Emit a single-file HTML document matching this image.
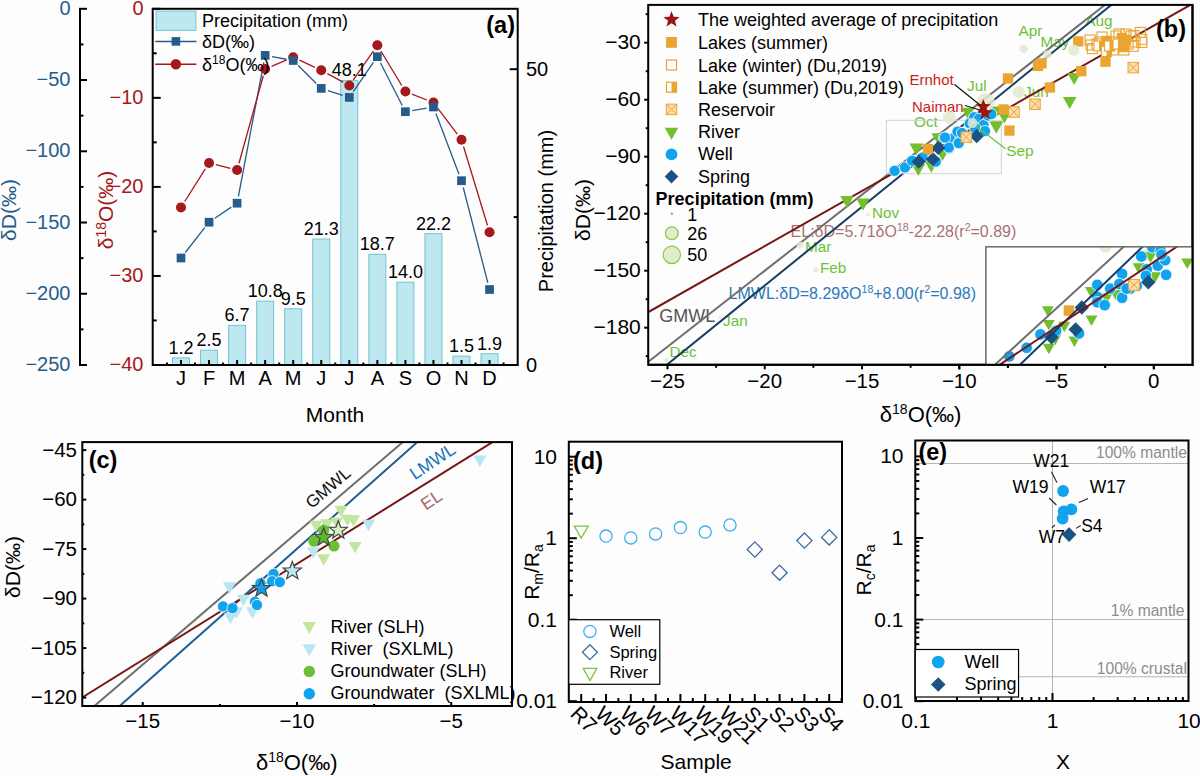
<!DOCTYPE html>
<html><head><meta charset="utf-8"><style>
html,body{margin:0;padding:0;background:#fdfdfd;}
svg{display:block;}
text{font-family:"Liberation Sans", sans-serif;}
</style></head><body>
<svg width="1200" height="776" viewBox="0 0 1200 776" font-family='"Liberation Sans", sans-serif'>
<rect width="1200" height="776" fill="#fdfdfd"/>
<rect x="172.5" y="357.9" width="17" height="7.1" fill="#bde8f0" stroke="#72c4cf" stroke-width="1" />
<rect x="200.55" y="350.21" width="17" height="14.79" fill="#bde8f0" stroke="#72c4cf" stroke-width="1" />
<rect x="228.6" y="325.36" width="17" height="39.64" fill="#bde8f0" stroke="#72c4cf" stroke-width="1" />
<rect x="256.65" y="301.11" width="17" height="63.89" fill="#bde8f0" stroke="#72c4cf" stroke-width="1" />
<rect x="284.7" y="308.8" width="17" height="56.2" fill="#bde8f0" stroke="#72c4cf" stroke-width="1" />
<rect x="312.75" y="238.99" width="17" height="126.01" fill="#bde8f0" stroke="#72c4cf" stroke-width="1" />
<rect x="340.8" y="80.44" width="17" height="284.56" fill="#bde8f0" stroke="#72c4cf" stroke-width="1" />
<rect x="368.85" y="254.37" width="17" height="110.63" fill="#bde8f0" stroke="#72c4cf" stroke-width="1" />
<rect x="396.9" y="282.18" width="17" height="82.82" fill="#bde8f0" stroke="#72c4cf" stroke-width="1" />
<rect x="424.95" y="233.66" width="17" height="131.34" fill="#bde8f0" stroke="#72c4cf" stroke-width="1" />
<rect x="453" y="356.13" width="17" height="8.87" fill="#bde8f0" stroke="#72c4cf" stroke-width="1" />
<rect x="481.05" y="353.76" width="17" height="11.24" fill="#bde8f0" stroke="#72c4cf" stroke-width="1" />
<line x1="185.32" y1="252.49" x2="204.73" y2="227.71" stroke="#265c8c" stroke-width="1.3" />
<line x1="214.85" y1="218.27" x2="231.3" y2="207.13" stroke="#265c8c" stroke-width="1.3" />
<line x1="238.41" y1="196.32" x2="263.84" y2="62.28" stroke="#265c8c" stroke-width="1.3" />
<line x1="272.04" y1="56.65" x2="286.31" y2="59.25" stroke="#265c8c" stroke-width="1.3" />
<line x1="298.16" y1="65.44" x2="316.29" y2="83.46" stroke="#265c8c" stroke-width="1.3" />
<line x1="327.92" y1="90.54" x2="342.63" y2="95.26" stroke="#265c8c" stroke-width="1.3" />
<line x1="353.27" y1="91.64" x2="373.38" y2="62.46" stroke="#265c8c" stroke-width="1.3" />
<line x1="380.53" y1="62.94" x2="402.22" y2="105.46" stroke="#265c8c" stroke-width="1.3" />
<line x1="412.3" y1="110.54" x2="426.55" y2="108.16" stroke="#265c8c" stroke-width="1.3" />
<line x1="435.94" y1="113.54" x2="459.01" y2="174.16" stroke="#265c8c" stroke-width="1.3" />
<line x1="463.25" y1="187.48" x2="487.8" y2="282.72" stroke="#265c8c" stroke-width="1.3" />
<line x1="184.74" y1="201.48" x2="205.31" y2="168.92" stroke="#a5181c" stroke-width="1.3" />
<line x1="215.84" y1="164.69" x2="230.31" y2="168.31" stroke="#a5181c" stroke-width="1.3" />
<line x1="238.97" y1="163.26" x2="263.28" y2="75.74" stroke="#a5181c" stroke-width="1.3" />
<line x1="271.6" y1="66.29" x2="286.75" y2="59.91" stroke="#a5181c" stroke-width="1.3" />
<line x1="299.54" y1="60.16" x2="314.91" y2="67.34" stroke="#a5181c" stroke-width="1.3" />
<line x1="327.4" y1="73.64" x2="343.15" y2="82.16" stroke="#a5181c" stroke-width="1.3" />
<line x1="353.31" y1="79.76" x2="373.34" y2="51.04" stroke="#a5181c" stroke-width="1.3" />
<line x1="380.98" y1="51.28" x2="401.77" y2="85.52" stroke="#a5181c" stroke-width="1.3" />
<line x1="411.91" y1="94.08" x2="426.94" y2="100.02" stroke="#a5181c" stroke-width="1.3" />
<line x1="437.66" y1="108.19" x2="457.29" y2="134.21" stroke="#a5181c" stroke-width="1.3" />
<line x1="463.53" y1="146.5" x2="487.52" y2="225.5" stroke="#a5181c" stroke-width="1.3" />
<circle cx="181" cy="207.4" r="5" fill="#a5181c" stroke="none" stroke-width="1" />
<circle cx="209.05" cy="163" r="5" fill="#a5181c" stroke="none" stroke-width="1" />
<circle cx="237.1" cy="170" r="5" fill="#a5181c" stroke="none" stroke-width="1" />
<circle cx="265.15" cy="69" r="5" fill="#a5181c" stroke="none" stroke-width="1" />
<circle cx="293.2" cy="57.2" r="5" fill="#a5181c" stroke="none" stroke-width="1" />
<circle cx="321.25" cy="70.3" r="5" fill="#a5181c" stroke="none" stroke-width="1" />
<circle cx="349.3" cy="85.5" r="5" fill="#a5181c" stroke="none" stroke-width="1" />
<circle cx="377.35" cy="45.3" r="5" fill="#a5181c" stroke="none" stroke-width="1" />
<circle cx="405.4" cy="91.5" r="5" fill="#a5181c" stroke="none" stroke-width="1" />
<circle cx="433.45" cy="102.6" r="5" fill="#a5181c" stroke="none" stroke-width="1" />
<circle cx="461.5" cy="139.8" r="5" fill="#a5181c" stroke="none" stroke-width="1" />
<circle cx="489.55" cy="232.2" r="5" fill="#a5181c" stroke="none" stroke-width="1" />
<rect x="176.65" y="253.65" width="8.7" height="8.7" fill="#265c8c" stroke="none" stroke-width="1" />
<rect x="204.7" y="217.85" width="8.7" height="8.7" fill="#265c8c" stroke="none" stroke-width="1" />
<rect x="232.75" y="198.85" width="8.7" height="8.7" fill="#265c8c" stroke="none" stroke-width="1" />
<rect x="260.8" y="51.05" width="8.7" height="8.7" fill="#265c8c" stroke="none" stroke-width="1" />
<rect x="288.85" y="56.15" width="8.7" height="8.7" fill="#265c8c" stroke="none" stroke-width="1" />
<rect x="316.9" y="84.05" width="8.7" height="8.7" fill="#265c8c" stroke="none" stroke-width="1" />
<rect x="344.95" y="93.05" width="8.7" height="8.7" fill="#265c8c" stroke="none" stroke-width="1" />
<rect x="373" y="52.35" width="8.7" height="8.7" fill="#265c8c" stroke="none" stroke-width="1" />
<rect x="401.05" y="107.35" width="8.7" height="8.7" fill="#265c8c" stroke="none" stroke-width="1" />
<rect x="429.1" y="102.65" width="8.7" height="8.7" fill="#265c8c" stroke="none" stroke-width="1" />
<rect x="457.15" y="176.35" width="8.7" height="8.7" fill="#265c8c" stroke="none" stroke-width="1" />
<rect x="485.2" y="285.15" width="8.7" height="8.7" fill="#265c8c" stroke="none" stroke-width="1" />
<text x="181" y="353.9" font-size="18" fill="#000" text-anchor="middle" font-weight="normal" >1.2</text>
<text x="209.05" y="346.21" font-size="18" fill="#000" text-anchor="middle" font-weight="normal" >2.5</text>
<text x="237.1" y="321.36" font-size="18" fill="#000" text-anchor="middle" font-weight="normal" >6.7</text>
<text x="265.15" y="297.11" font-size="18" fill="#000" text-anchor="middle" font-weight="normal" >10.8</text>
<text x="293.2" y="304.8" font-size="18" fill="#000" text-anchor="middle" font-weight="normal" >9.5</text>
<text x="321.25" y="234.99" font-size="18" fill="#000" text-anchor="middle" font-weight="normal" >21.3</text>
<text x="349.3" y="76.44" font-size="18" fill="#000" text-anchor="middle" font-weight="normal" >48.1</text>
<text x="377.35" y="250.37" font-size="18" fill="#000" text-anchor="middle" font-weight="normal" >18.7</text>
<text x="405.4" y="278.18" font-size="18" fill="#000" text-anchor="middle" font-weight="normal" >14.0</text>
<text x="433.45" y="229.66" font-size="18" fill="#000" text-anchor="middle" font-weight="normal" >22.2</text>
<text x="461.5" y="352.13" font-size="18" fill="#000" text-anchor="middle" font-weight="normal" >1.5</text>
<text x="489.55" y="349.76" font-size="18" fill="#000" text-anchor="middle" font-weight="normal" >1.9</text>
<rect x="152.7" y="8.8" width="365" height="356.2" fill="none" stroke="#000" stroke-width="2" />
<line x1="80" y1="8.8" x2="80" y2="366" stroke="#000" stroke-width="2" />
<line x1="79" y1="8.8" x2="87" y2="8.8" stroke="#000" stroke-width="2" />
<text x="70.5" y="14.8" font-size="20" fill="#265c8c" text-anchor="end" font-weight="normal" >0</text>
<line x1="80" y1="44.42" x2="83.5" y2="44.42" stroke="#000" stroke-width="2" />
<line x1="79" y1="80.04" x2="87" y2="80.04" stroke="#000" stroke-width="2" />
<text x="70.5" y="86.04" font-size="20" fill="#265c8c" text-anchor="end" font-weight="normal" >−50</text>
<line x1="80" y1="115.66" x2="83.5" y2="115.66" stroke="#000" stroke-width="2" />
<line x1="79" y1="151.28" x2="87" y2="151.28" stroke="#000" stroke-width="2" />
<text x="70.5" y="157.28" font-size="20" fill="#265c8c" text-anchor="end" font-weight="normal" >−100</text>
<line x1="80" y1="186.9" x2="83.5" y2="186.9" stroke="#000" stroke-width="2" />
<line x1="79" y1="222.52" x2="87" y2="222.52" stroke="#000" stroke-width="2" />
<text x="70.5" y="228.52" font-size="20" fill="#265c8c" text-anchor="end" font-weight="normal" >−150</text>
<line x1="80" y1="258.14" x2="83.5" y2="258.14" stroke="#000" stroke-width="2" />
<line x1="79" y1="293.76" x2="87" y2="293.76" stroke="#000" stroke-width="2" />
<text x="70.5" y="299.76" font-size="20" fill="#265c8c" text-anchor="end" font-weight="normal" >−200</text>
<line x1="80" y1="329.38" x2="83.5" y2="329.38" stroke="#000" stroke-width="2" />
<line x1="79" y1="365" x2="87" y2="365" stroke="#000" stroke-width="2" />
<text x="70.5" y="371" font-size="20" fill="#265c8c" text-anchor="end" font-weight="normal" >−250</text>
<line x1="152.7" y1="8.8" x2="160.7" y2="8.8" stroke="#000" stroke-width="2" />
<text x="143.5" y="14.8" font-size="20" fill="#a5181c" text-anchor="end" font-weight="normal" >0</text>
<line x1="152.7" y1="53.3" x2="156.7" y2="53.3" stroke="#000" stroke-width="2" />
<line x1="152.7" y1="97.85" x2="160.7" y2="97.85" stroke="#000" stroke-width="2" />
<text x="143.5" y="103.85" font-size="20" fill="#a5181c" text-anchor="end" font-weight="normal" >−10</text>
<line x1="152.7" y1="142.35" x2="156.7" y2="142.35" stroke="#000" stroke-width="2" />
<line x1="152.7" y1="186.9" x2="160.7" y2="186.9" stroke="#000" stroke-width="2" />
<text x="143.5" y="192.9" font-size="20" fill="#a5181c" text-anchor="end" font-weight="normal" >−20</text>
<line x1="152.7" y1="231.4" x2="156.7" y2="231.4" stroke="#000" stroke-width="2" />
<line x1="152.7" y1="275.95" x2="160.7" y2="275.95" stroke="#000" stroke-width="2" />
<text x="143.5" y="281.95" font-size="20" fill="#a5181c" text-anchor="end" font-weight="normal" >−30</text>
<line x1="152.7" y1="320.45" x2="156.7" y2="320.45" stroke="#000" stroke-width="2" />
<line x1="152.7" y1="365" x2="160.7" y2="365" stroke="#000" stroke-width="2" />
<text x="143.5" y="371" font-size="20" fill="#a5181c" text-anchor="end" font-weight="normal" >−40</text>
<line x1="517.7" y1="365" x2="509.7" y2="365" stroke="#000" stroke-width="2" />
<text x="526" y="372" font-size="20" fill="#000" text-anchor="start" font-weight="normal" >0</text>
<line x1="517.7" y1="69.2" x2="509.7" y2="69.2" stroke="#000" stroke-width="2" />
<text x="526" y="76.2" font-size="20" fill="#000" text-anchor="start" font-weight="normal" >50</text>
<line x1="517.7" y1="217.1" x2="513.7" y2="217.1" stroke="#000" stroke-width="2" />
<line x1="181" y1="365" x2="181" y2="360" stroke="#000" stroke-width="2" />
<text x="181" y="385" font-size="20" fill="#000" text-anchor="middle" font-weight="normal" >J</text>
<line x1="209.05" y1="365" x2="209.05" y2="360" stroke="#000" stroke-width="2" />
<text x="209.05" y="385" font-size="20" fill="#000" text-anchor="middle" font-weight="normal" >F</text>
<line x1="237.1" y1="365" x2="237.1" y2="360" stroke="#000" stroke-width="2" />
<text x="237.1" y="385" font-size="20" fill="#000" text-anchor="middle" font-weight="normal" >M</text>
<line x1="265.15" y1="365" x2="265.15" y2="360" stroke="#000" stroke-width="2" />
<text x="265.15" y="385" font-size="20" fill="#000" text-anchor="middle" font-weight="normal" >A</text>
<line x1="293.2" y1="365" x2="293.2" y2="360" stroke="#000" stroke-width="2" />
<text x="293.2" y="385" font-size="20" fill="#000" text-anchor="middle" font-weight="normal" >M</text>
<line x1="321.25" y1="365" x2="321.25" y2="360" stroke="#000" stroke-width="2" />
<text x="321.25" y="385" font-size="20" fill="#000" text-anchor="middle" font-weight="normal" >J</text>
<line x1="349.3" y1="365" x2="349.3" y2="360" stroke="#000" stroke-width="2" />
<text x="349.3" y="385" font-size="20" fill="#000" text-anchor="middle" font-weight="normal" >J</text>
<line x1="377.35" y1="365" x2="377.35" y2="360" stroke="#000" stroke-width="2" />
<text x="377.35" y="385" font-size="20" fill="#000" text-anchor="middle" font-weight="normal" >A</text>
<line x1="405.4" y1="365" x2="405.4" y2="360" stroke="#000" stroke-width="2" />
<text x="405.4" y="385" font-size="20" fill="#000" text-anchor="middle" font-weight="normal" >S</text>
<line x1="433.45" y1="365" x2="433.45" y2="360" stroke="#000" stroke-width="2" />
<text x="433.45" y="385" font-size="20" fill="#000" text-anchor="middle" font-weight="normal" >O</text>
<line x1="461.5" y1="365" x2="461.5" y2="360" stroke="#000" stroke-width="2" />
<text x="461.5" y="385" font-size="20" fill="#000" text-anchor="middle" font-weight="normal" >N</text>
<line x1="489.55" y1="365" x2="489.55" y2="360" stroke="#000" stroke-width="2" />
<text x="489.55" y="385" font-size="20" fill="#000" text-anchor="middle" font-weight="normal" >D</text>
<line x1="166.97" y1="365" x2="166.97" y2="362.5" stroke="#000" stroke-width="2" />
<line x1="195.02" y1="365" x2="195.02" y2="362.5" stroke="#000" stroke-width="2" />
<line x1="223.07" y1="365" x2="223.07" y2="362.5" stroke="#000" stroke-width="2" />
<line x1="251.12" y1="365" x2="251.12" y2="362.5" stroke="#000" stroke-width="2" />
<line x1="279.17" y1="365" x2="279.17" y2="362.5" stroke="#000" stroke-width="2" />
<line x1="307.22" y1="365" x2="307.22" y2="362.5" stroke="#000" stroke-width="2" />
<line x1="335.27" y1="365" x2="335.27" y2="362.5" stroke="#000" stroke-width="2" />
<line x1="363.32" y1="365" x2="363.32" y2="362.5" stroke="#000" stroke-width="2" />
<line x1="391.37" y1="365" x2="391.37" y2="362.5" stroke="#000" stroke-width="2" />
<line x1="419.42" y1="365" x2="419.42" y2="362.5" stroke="#000" stroke-width="2" />
<line x1="447.47" y1="365" x2="447.47" y2="362.5" stroke="#000" stroke-width="2" />
<line x1="475.52" y1="365" x2="475.52" y2="362.5" stroke="#000" stroke-width="2" />
<line x1="503.57" y1="365" x2="503.57" y2="362.5" stroke="#000" stroke-width="2" />
<text x="335" y="422" font-size="21" fill="#000" text-anchor="middle" font-weight="normal" >Month</text>
<text x="15.5" y="210" font-size="21" fill="#265c8c" text-anchor="middle" font-weight="normal" transform="rotate(-90 15.5 210)">δD(‰)</text>
<text x="112.5" y="210" font-size="21" fill="#a5181c" text-anchor="middle" transform="rotate(-90 112.5 210)">δ<tspan font-size="14" dy="-7">18</tspan><tspan dy="7">O(‰)</tspan></text>
<text x="553" y="211" font-size="20" fill="#000" text-anchor="middle" font-weight="normal" transform="rotate(-90 553 211)">Precipitation (mm)</text>
<text x="515" y="33" font-size="23.5" fill="#000" text-anchor="end" font-weight="bold" >(a)</text>
<rect x="156.1" y="11.1" width="39.8" height="19.3" fill="#bde8f0" stroke="#72c4cf" stroke-width="1" />
<text x="202" y="26.6" font-size="18" fill="#000" text-anchor="start" font-weight="normal" >Precipitation (mm)</text>
<line x1="155.3" y1="41.4" x2="196.4" y2="41.4" stroke="#265c8c" stroke-width="1.5" />
<rect x="171.6" y="37.1" width="8.6" height="8.6" fill="#265c8c" stroke="none" stroke-width="1" />
<text x="202" y="47.8" font-size="18" fill="#000" text-anchor="start" font-weight="normal" >δD(‰)</text>
<line x1="155.3" y1="64.2" x2="196.4" y2="64.2" stroke="#a5181c" stroke-width="1.5" />
<circle cx="175.9" cy="64.2" r="5.2" fill="#a5181c" stroke="none" stroke-width="1" />
<text x="202" y="70.5" font-size="18" fill="#000">δ<tspan font-size="12" dy="-6.5">18</tspan><tspan dy="6.5">O(‰)</tspan></text>
<clipPath id="cb"><rect x="648.2" y="4.9" width="544.3" height="359.90000000000003"/></clipPath>
<g clip-path="url(#cb)">
<text x="790.6" y="237" font-size="16" fill="#a87272">EL:δD=5.71δO<tspan font-size="10.5" dy="-6">18</tspan><tspan dy="6">-22.28(r</tspan><tspan font-size="10.5" dy="-6">2</tspan><tspan dy="6">=0.89)</tspan></text>
<text x="728.6" y="299" font-size="16" fill="#2b79ba">LMWL:δD=8.29δO<tspan font-size="10.5" dy="-6">18</tspan><tspan dy="6">+8.00(r</tspan><tspan font-size="10.5" dy="-6">2</tspan><tspan dy="6">=0.98)</tspan></text>
<text x="659.3" y="322" font-size="18" fill="#555" text-anchor="start" font-weight="normal" >GMWL</text>
<text x="669.5" y="356.5" font-size="15.3" fill="#6cc236" text-anchor="start" font-weight="normal" >Dec</text>
<text x="723" y="325.8" font-size="15.3" fill="#6cc236" text-anchor="start" font-weight="normal" >Jan</text>
<text x="820" y="273" font-size="15.3" fill="#6cc236" text-anchor="start" font-weight="normal" >Feb</text>
<text x="805" y="252" font-size="15.3" fill="#6cc236" text-anchor="start" font-weight="normal" >Mar</text>
<text x="872" y="218" font-size="15.3" fill="#6cc236" text-anchor="start" font-weight="normal" >Nov</text>
<text x="914" y="126.9" font-size="15.3" fill="#6cc236" text-anchor="start" font-weight="normal" >Oct</text>
<text x="1006.3" y="155.6" font-size="15.3" fill="#6cc236" text-anchor="start" font-weight="normal" >Sep</text>
<text x="967" y="90.5" font-size="15.3" fill="#6cc236" text-anchor="start" font-weight="normal" >Jul</text>
<text x="1024" y="96.5" font-size="15.3" fill="#6cc236" text-anchor="start" font-weight="normal" >Jun</text>
<text x="1040.6" y="47.3" font-size="15.3" fill="#6cc236" text-anchor="start" font-weight="normal" >May</text>
<text x="1018.5" y="35.5" font-size="15.3" fill="#6cc236" text-anchor="start" font-weight="normal" >Apr</text>
<text x="1085.3" y="26.3" font-size="15.3" fill="#6cc236" text-anchor="start" font-weight="normal" >Aug</text>
<text x="909.5" y="84.5" font-size="15" fill="#cc1a1a" text-anchor="start" font-weight="normal" >Ernhot</text>
<text x="912" y="112" font-size="15" fill="#cc1a1a" text-anchor="start" font-weight="normal" >Naiman</text>
<line x1="628.6" y1="377.1" x2="1212.16" y2="-78.9" stroke="#6f6f6f" stroke-width="2" />
<line x1="628.6" y1="395.78" x2="1212.16" y2="-76.75" stroke="#173d66" stroke-width="2" />
<line x1="640" y1="316.8" x2="1200" y2="-0.55" stroke="#781616" stroke-width="2" />
<rect x="886.4" y="120.3" width="114.9" height="53.4" fill="none" stroke="#c9d1dd" stroke-width="1" />
<rect x="1085" y="35" width="10" height="10" fill="none" stroke="#eaa531" stroke-width="1.1" />
<rect x="1086" y="40" width="10" height="10" fill="none" stroke="#eaa531" stroke-width="1.1" />
<rect x="1087.4" y="43.6" width="10" height="10" fill="none" stroke="#eaa531" stroke-width="1.1" />
<rect x="1092" y="39" width="10" height="10" fill="none" stroke="#eaa531" stroke-width="1.1" />
<rect x="1095" y="37" width="10" height="10" fill="none" stroke="#eaa531" stroke-width="1.1" />
<rect x="1097" y="32" width="10" height="10" fill="none" stroke="#eaa531" stroke-width="1.1" />
<rect x="1107" y="37" width="10" height="10" fill="none" stroke="#eaa531" stroke-width="1.1" />
<rect x="1111" y="31" width="10" height="10" fill="none" stroke="#eaa531" stroke-width="1.1" />
<rect x="1114" y="29" width="10" height="10" fill="none" stroke="#eaa531" stroke-width="1.1" />
<rect x="1121" y="29" width="10" height="10" fill="none" stroke="#eaa531" stroke-width="1.1" />
<rect x="1126" y="31" width="10" height="10" fill="none" stroke="#eaa531" stroke-width="1.1" />
<rect x="1129" y="30.5" width="10" height="10" fill="none" stroke="#eaa531" stroke-width="1.1" />
<rect x="1128.3" y="41.3" width="10" height="10" fill="none" stroke="#eaa531" stroke-width="1.1" />
<rect x="1130" y="37" width="10" height="10" fill="none" stroke="#eaa531" stroke-width="1.1" />
<rect x="1135.3" y="27.4" width="10" height="10" fill="none" stroke="#eaa531" stroke-width="1.1" />
<rect x="1136.8" y="34.3" width="10" height="10" fill="none" stroke="#eaa531" stroke-width="1.1" />
<rect x="1136.8" y="37.4" width="10" height="10" fill="none" stroke="#eaa531" stroke-width="1.1" />
<rect x="1123" y="39" width="10" height="10" fill="none" stroke="#eaa531" stroke-width="1.1" />
<rect x="1119" y="45" width="10" height="10" fill="none" stroke="#eaa531" stroke-width="1.1" />
<rect x="1108" y="45" width="10" height="10" fill="none" stroke="#eaa531" stroke-width="1.1" />
<path d="M909.55 143.4L923.05 143.4L916.3 155.4Z" fill="#72be2c" stroke="none" stroke-width="1"/>
<path d="M911.55 164L925.05 164L918.3 176Z" fill="#72be2c" stroke="none" stroke-width="1"/>
<path d="M924.55 160.7L938.05 160.7L931.3 172.7Z" fill="#72be2c" stroke="none" stroke-width="1"/>
<path d="M935.75 149L949.25 149L942.5 161Z" fill="#72be2c" stroke="none" stroke-width="1"/>
<path d="M931.55 133.2L945.05 133.2L938.3 145.2Z" fill="#72be2c" stroke="none" stroke-width="1"/>
<path d="M961.35 107.8L974.85 107.8L968.1 119.8Z" fill="#72be2c" stroke="none" stroke-width="1"/>
<path d="M988.85 106.5L1002.35 106.5L995.6 118.5Z" fill="#72be2c" stroke="none" stroke-width="1"/>
<path d="M997.65 111.5L1011.15 111.5L1004.4 123.5Z" fill="#72be2c" stroke="none" stroke-width="1"/>
<path d="M1067.35 73L1080.85 73L1074.1 85Z" fill="#72be2c" stroke="none" stroke-width="1"/>
<path d="M1062.95 97L1076.45 97L1069.7 109Z" fill="#72be2c" stroke="none" stroke-width="1"/>
<path d="M840.25 196L853.75 196L847 208Z" fill="#72be2c" stroke="none" stroke-width="1"/>
<path d="M856.25 198.4L869.75 198.4L863 210.4Z" fill="#72be2c" stroke="none" stroke-width="1"/>
<path d="M989.3 121.25L1003.3 121.25L996.3 133.75Z" fill="#72be2c" stroke="none" stroke-width="1"/>
<circle cx="894.6" cy="170.8" r="5.6" fill="#11a3ee" stroke="#fff" stroke-width="0.8" />
<circle cx="905" cy="167.5" r="5.6" fill="#11a3ee" stroke="#fff" stroke-width="0.8" />
<circle cx="912.1" cy="160.8" r="5.6" fill="#11a3ee" stroke="#fff" stroke-width="0.8" />
<circle cx="922.5" cy="157.5" r="5.6" fill="#11a3ee" stroke="#fff" stroke-width="0.8" />
<circle cx="935.8" cy="161.7" r="5.6" fill="#11a3ee" stroke="#fff" stroke-width="0.8" />
<circle cx="944.2" cy="137.9" r="5.6" fill="#11a3ee" stroke="#fff" stroke-width="0.8" />
<circle cx="949.2" cy="148.3" r="5.6" fill="#11a3ee" stroke="#fff" stroke-width="0.8" />
<circle cx="950" cy="139.2" r="5.6" fill="#11a3ee" stroke="#fff" stroke-width="0.8" />
<circle cx="958.3" cy="143.3" r="5.6" fill="#11a3ee" stroke="#fff" stroke-width="0.8" />
<circle cx="957.5" cy="131.7" r="5.6" fill="#11a3ee" stroke="#fff" stroke-width="0.8" />
<circle cx="948.75" cy="147.5" r="5.6" fill="#11a3ee" stroke="#fff" stroke-width="0.8" />
<circle cx="945" cy="137.5" r="5.6" fill="#11a3ee" stroke="#fff" stroke-width="0.8" />
<circle cx="958.75" cy="143.1" r="5.6" fill="#11a3ee" stroke="#fff" stroke-width="0.8" />
<circle cx="969.7" cy="123.4" r="5.6" fill="#11a3ee" stroke="#fff" stroke-width="0.8" />
<circle cx="974.3" cy="117.2" r="5.6" fill="#11a3ee" stroke="#fff" stroke-width="0.8" />
<circle cx="979" cy="118.7" r="5.6" fill="#11a3ee" stroke="#fff" stroke-width="0.8" />
<circle cx="983.6" cy="125" r="5.6" fill="#11a3ee" stroke="#fff" stroke-width="0.8" />
<circle cx="985" cy="131.1" r="5.6" fill="#11a3ee" stroke="#fff" stroke-width="0.8" />
<circle cx="988.2" cy="115.6" r="5.6" fill="#11a3ee" stroke="#fff" stroke-width="0.8" />
<circle cx="991.3" cy="114.1" r="5.6" fill="#11a3ee" stroke="#fff" stroke-width="0.8" />
<circle cx="975" cy="128" r="5.6" fill="#11a3ee" stroke="#fff" stroke-width="0.8" />
<circle cx="962" cy="133" r="5.6" fill="#11a3ee" stroke="#fff" stroke-width="0.8" />
<path d="M918.75 154.6L925.85 161.7L918.75 168.8L911.65 161.7Z" fill="#1b5281" stroke="none" stroke-width="1"/>
<path d="M932.9 152.1L940 159.2L932.9 166.3L925.8 159.2Z" fill="#1b5281" stroke="none" stroke-width="1"/>
<path d="M938.3 140.8L945.4 147.9L938.3 155L931.2 147.9Z" fill="#1b5281" stroke="none" stroke-width="1"/>
<path d="M976.7 129.1L983.8 136.2L976.7 143.3L969.6 136.2Z" fill="#1b5281" stroke="none" stroke-width="1"/>
<rect x="1002.85" y="73.35" width="10.3" height="10.3" fill="#eaa531" stroke="none" stroke-width="1" />
<rect x="1032.85" y="60.75" width="10.3" height="10.3" fill="#eaa531" stroke="none" stroke-width="1" />
<rect x="1036.45" y="58.15" width="10.3" height="10.3" fill="#eaa531" stroke="none" stroke-width="1" />
<rect x="1073.05" y="36.25" width="10.3" height="10.3" fill="#eaa531" stroke="none" stroke-width="1" />
<rect x="1076.15" y="66.05" width="10.3" height="10.3" fill="#eaa531" stroke="none" stroke-width="1" />
<rect x="1044.75" y="82.35" width="10.3" height="10.3" fill="#eaa531" stroke="none" stroke-width="1" />
<rect x="922.75" y="143.85" width="10.3" height="10.3" fill="#eaa531" stroke="none" stroke-width="1" />
<rect x="998.35" y="104.35" width="10.3" height="10.3" fill="#eaa531" stroke="none" stroke-width="1" />
<rect x="1004.25" y="125.45" width="10.3" height="10.3" fill="#eaa531" stroke="none" stroke-width="1" />
<rect x="1101.35" y="35.85" width="10.3" height="10.3" fill="#eaa531" stroke="none" stroke-width="1" />
<rect x="1100.85" y="44.85" width="10.3" height="10.3" fill="#eaa531" stroke="none" stroke-width="1" />
<rect x="1100.35" y="56.55" width="10.3" height="10.3" fill="#eaa531" stroke="none" stroke-width="1" />
<rect x="1104.85" y="39.85" width="10.3" height="10.3" fill="#eaa531" stroke="none" stroke-width="1" />
<rect x="1116.85" y="32.85" width="10.3" height="10.3" fill="#eaa531" stroke="none" stroke-width="1" />
<rect x="1117.85" y="41.85" width="10.3" height="10.3" fill="#eaa531" stroke="none" stroke-width="1" />
<rect x="1114.85" y="38.85" width="10.3" height="10.3" fill="#eaa531" stroke="none" stroke-width="1" />
<rect x="1120.85" y="34.85" width="10.3" height="10.3" fill="#eaa531" stroke="none" stroke-width="1" />
<rect x="1094" y="41" width="10" height="10" fill="#fff" stroke="#eaa531" stroke-width="1.1" />
<rect x="1099" y="41" width="5" height="10" fill="#eaa531" stroke="none" stroke-width="1" />
<rect x="1101.5" y="46.5" width="10" height="10" fill="#fff" stroke="#eaa531" stroke-width="1.1" />
<rect x="1106.5" y="46.5" width="5" height="10" fill="#eaa531" stroke="none" stroke-width="1" />
<rect x="1104.5" y="41" width="10" height="10" fill="#fff" stroke="#eaa531" stroke-width="1.1" />
<rect x="1109.5" y="41" width="5" height="10" fill="#eaa531" stroke="none" stroke-width="1" />
<rect x="1113" y="39" width="10" height="10" fill="#fff" stroke="#eaa531" stroke-width="1.1" />
<rect x="1118" y="39" width="5" height="10" fill="#eaa531" stroke="none" stroke-width="1" />
<rect x="1128.05" y="62.35" width="10.5" height="10.5" fill="#f9dcb0" stroke="#eaa531" stroke-width="1" />
<path d="M1128.05 62.35L1138.55 72.85M1138.55 62.35L1128.05 72.85" stroke="#eaa531" stroke-width="1" fill="none"/>
<rect x="961.05" y="131.95" width="10.5" height="10.5" fill="#f9dcb0" stroke="#eaa531" stroke-width="1" />
<path d="M961.05 131.95L971.55 142.45M971.55 131.95L961.05 142.45" stroke="#eaa531" stroke-width="1" fill="none"/>
<rect x="1008.75" y="106.75" width="10.5" height="10.5" fill="#f9dcb0" stroke="#eaa531" stroke-width="1" />
<path d="M1008.75 106.75L1019.25 117.25M1019.25 106.75L1008.75 117.25" stroke="#eaa531" stroke-width="1" fill="none"/>
<rect x="1029.75" y="98.95" width="10.5" height="10.5" fill="#f9dcb0" stroke="#eaa531" stroke-width="1" />
<path d="M1029.75 98.95L1040.25 109.45M1040.25 98.95L1029.75 109.45" stroke="#eaa531" stroke-width="1" fill="none"/>
<circle cx="666.5" cy="360" r="2.2" fill="#e3eace" stroke="none" stroke-width="0" fill-opacity="0.85"/>
<circle cx="720" cy="317.5" r="1.6" fill="#e3eace" stroke="none" stroke-width="0" fill-opacity="0.85"/>
<circle cx="816" cy="270" r="2.5" fill="#e3eace" stroke="none" stroke-width="0" fill-opacity="0.85"/>
<circle cx="800" cy="245" r="3.5" fill="#e3eace" stroke="none" stroke-width="0" fill-opacity="0.85"/>
<circle cx="868" cy="214.4" r="1.6" fill="#e3eace" stroke="none" stroke-width="0" fill-opacity="0.85"/>
<circle cx="1023.6" cy="48.7" r="4.3" fill="#e3eace" stroke="none" stroke-width="0" fill-opacity="0.85"/>
<circle cx="1047.3" cy="54.5" r="4.3" fill="#e3eace" stroke="none" stroke-width="0" fill-opacity="0.85"/>
<circle cx="1073.8" cy="50.1" r="5.6" fill="#e3eace" stroke="none" stroke-width="0" fill-opacity="0.85"/>
<circle cx="1018.6" cy="92" r="6" fill="#e3eace" stroke="none" stroke-width="0" fill-opacity="0.85"/>
<circle cx="986" cy="102" r="9" fill="#e3eace" stroke="none" stroke-width="0" fill-opacity="0.85"/>
<circle cx="949.4" cy="117.5" r="6.5" fill="#e3eace" stroke="none" stroke-width="0" fill-opacity="0.85"/>
<circle cx="972.5" cy="123.1" r="5" fill="#e3eace" stroke="none" stroke-width="0" fill-opacity="0.85"/>
<polygon points="983.3,98.9 985.25,104.12 990.81,104.36 986.46,107.83 987.94,113.19 983.3,110.12 978.66,113.19 980.14,107.83 975.79,104.36 981.35,104.12" fill="#9d1313" stroke="none" stroke-width="1" stroke-linejoin="miter"/>
<polygon points="985.1,105 987.07,110.28 992.71,110.53 988.3,114.04 989.8,119.47 985.1,116.36 980.4,119.47 981.9,114.04 977.49,110.53 983.13,110.28" fill="#9d1313" stroke="none" stroke-width="1" stroke-linejoin="miter"/>
<line x1="954.5" y1="84.5" x2="980" y2="105" stroke="#111" stroke-width="1.2" />
<line x1="965" y1="105.5" x2="980" y2="110" stroke="#111" stroke-width="1.2" />
<line x1="976.25" y1="126.25" x2="1005.6" y2="148.75" stroke="#6cc236" stroke-width="1.2" />
</g>
<rect x="648.2" y="4.9" width="544.3" height="359.9" fill="none" stroke="#000" stroke-width="2" />
<line x1="644.2" y1="42.7" x2="648.2" y2="42.7" stroke="#000" stroke-width="2" />
<text x="640.8" y="49.2" font-size="21" fill="#000" text-anchor="end" font-weight="normal" >−30</text>
<line x1="644.2" y1="99.7" x2="648.2" y2="99.7" stroke="#000" stroke-width="2" />
<text x="640.8" y="106.2" font-size="21" fill="#000" text-anchor="end" font-weight="normal" >−60</text>
<line x1="644.2" y1="156.7" x2="648.2" y2="156.7" stroke="#000" stroke-width="2" />
<text x="640.8" y="163.2" font-size="21" fill="#000" text-anchor="end" font-weight="normal" >−90</text>
<line x1="644.2" y1="213.7" x2="648.2" y2="213.7" stroke="#000" stroke-width="2" />
<text x="640.8" y="220.2" font-size="21" fill="#000" text-anchor="end" font-weight="normal" >−120</text>
<line x1="644.2" y1="270.7" x2="648.2" y2="270.7" stroke="#000" stroke-width="2" />
<text x="640.8" y="277.2" font-size="21" fill="#000" text-anchor="end" font-weight="normal" >−150</text>
<line x1="644.2" y1="327.7" x2="648.2" y2="327.7" stroke="#000" stroke-width="2" />
<text x="640.8" y="334.2" font-size="21" fill="#000" text-anchor="end" font-weight="normal" >−180</text>
<line x1="645.7" y1="14.2" x2="648.2" y2="14.2" stroke="#000" stroke-width="2" />
<line x1="645.7" y1="71.2" x2="648.2" y2="71.2" stroke="#000" stroke-width="2" />
<line x1="645.7" y1="128.2" x2="648.2" y2="128.2" stroke="#000" stroke-width="2" />
<line x1="645.7" y1="185.2" x2="648.2" y2="185.2" stroke="#000" stroke-width="2" />
<line x1="645.7" y1="242.2" x2="648.2" y2="242.2" stroke="#000" stroke-width="2" />
<line x1="645.7" y1="299.2" x2="648.2" y2="299.2" stroke="#000" stroke-width="2" />
<line x1="645.7" y1="356.2" x2="648.2" y2="356.2" stroke="#000" stroke-width="2" />
<line x1="667.5" y1="364.8" x2="667.5" y2="369.3" stroke="#000" stroke-width="2" />
<text x="667.5" y="388" font-size="20.5" fill="#000" text-anchor="middle" font-weight="normal" >−25</text>
<line x1="764.76" y1="364.8" x2="764.76" y2="369.3" stroke="#000" stroke-width="2" />
<text x="764.76" y="388" font-size="20.5" fill="#000" text-anchor="middle" font-weight="normal" >−20</text>
<line x1="862.02" y1="364.8" x2="862.02" y2="369.3" stroke="#000" stroke-width="2" />
<text x="862.02" y="388" font-size="20.5" fill="#000" text-anchor="middle" font-weight="normal" >−15</text>
<line x1="959.28" y1="364.8" x2="959.28" y2="369.3" stroke="#000" stroke-width="2" />
<text x="959.28" y="388" font-size="20.5" fill="#000" text-anchor="middle" font-weight="normal" >−10</text>
<line x1="1056.54" y1="364.8" x2="1056.54" y2="369.3" stroke="#000" stroke-width="2" />
<text x="1056.54" y="388" font-size="20.5" fill="#000" text-anchor="middle" font-weight="normal" >−5</text>
<line x1="1153.8" y1="364.8" x2="1153.8" y2="369.3" stroke="#000" stroke-width="2" />
<text x="1153.8" y="388" font-size="20.5" fill="#000" text-anchor="middle" font-weight="normal" >0</text>
<line x1="716.13" y1="364.8" x2="716.13" y2="367.8" stroke="#000" stroke-width="2" />
<line x1="813.39" y1="364.8" x2="813.39" y2="367.8" stroke="#000" stroke-width="2" />
<line x1="910.65" y1="364.8" x2="910.65" y2="367.8" stroke="#000" stroke-width="2" />
<line x1="1007.91" y1="364.8" x2="1007.91" y2="367.8" stroke="#000" stroke-width="2" />
<line x1="1105.17" y1="364.8" x2="1105.17" y2="367.8" stroke="#000" stroke-width="2" />
<text x="920.6" y="421.7" font-size="22" fill="#000" text-anchor="middle">δ<tspan font-size="14" dy="-8">18</tspan><tspan dy="8">O(‰)</tspan></text>
<text x="590" y="210" font-size="21" fill="#000" text-anchor="middle" font-weight="normal" transform="rotate(-90 590 210)">δD(‰)</text>
<text x="1186" y="37" font-size="23.5" fill="#000" text-anchor="end" font-weight="bold" >(b)</text>
<polygon points="671.5,11 673.62,16.68 679.68,16.94 674.94,20.72 676.55,26.56 671.5,23.21 666.45,26.56 668.06,20.72 663.32,16.94 669.38,16.68" fill="#9d1313" stroke="none" stroke-width="1" stroke-linejoin="miter"/>
<rect x="666.1" y="37" width="10.8" height="10.8" fill="#eaa531" stroke="none" stroke-width="1" />
<rect x="666.5" y="60" width="10" height="10" fill="#fff" stroke="#eaa531" stroke-width="1.2" />
<rect x="666.5" y="82.2" width="10" height="10" fill="#fff" stroke="#eaa531" stroke-width="1.2" />
<rect x="671.5" y="82.2" width="5" height="10" fill="#eaa531" stroke="none" stroke-width="1" />
<rect x="666.25" y="104.15" width="10.5" height="10.5" fill="#f9dcb0" stroke="#eaa531" stroke-width="1" />
<path d="M666.25 104.15L676.75 114.65M676.75 104.15L666.25 114.65" stroke="#eaa531" stroke-width="1" fill="none"/>
<path d="M664.7 127.7L678.3 127.7L671.5 139.7Z" fill="#72be2c" stroke="none" stroke-width="1"/>
<circle cx="671.5" cy="154.4" r="5.9" fill="#11a3ee" stroke="none" stroke-width="1" />
<path d="M671.5 169.8L678.3 176.6L671.5 183.4L664.7 176.6Z" fill="#1b5281" stroke="none" stroke-width="1"/>
<text x="698" y="25.7" font-size="18" fill="#000" text-anchor="start" font-weight="normal" >The weighted average of precipitation</text>
<text x="698" y="48.9" font-size="18" fill="#000" text-anchor="start" font-weight="normal" >Lakes (summer)</text>
<text x="698" y="71.5" font-size="18" fill="#000" text-anchor="start" font-weight="normal" >Lake (winter) (Du,2019)</text>
<text x="698" y="93.7" font-size="18" fill="#000" text-anchor="start" font-weight="normal" >Lake (summer) (Du,2019)</text>
<text x="698" y="115.9" font-size="18" fill="#000" text-anchor="start" font-weight="normal" >Reservoir</text>
<text x="698" y="138.1" font-size="18" fill="#000" text-anchor="start" font-weight="normal" >River</text>
<text x="698" y="160.3" font-size="18" fill="#000" text-anchor="start" font-weight="normal" >Well</text>
<text x="698" y="182.5" font-size="18" fill="#000" text-anchor="start" font-weight="normal" >Spring</text>
<text x="655.6" y="205" font-size="18" fill="#000" text-anchor="start" font-weight="bold" >Precipitation (mm)</text>
<circle cx="671.8" cy="213.8" r="1.3" fill="#7fcf3f" stroke="none" stroke-width="1" />
<circle cx="671.8" cy="233.2" r="6.4" fill="#e3eace" stroke="#7fcf3f" stroke-width="1.2" />
<circle cx="671.8" cy="254.8" r="8.7" fill="#e3eace" stroke="#7fcf3f" stroke-width="1.2" />
<text x="687.3" y="220.5" font-size="18" fill="#000" text-anchor="start" font-weight="normal" >1</text>
<text x="687.3" y="240" font-size="18" fill="#000" text-anchor="start" font-weight="normal" >26</text>
<text x="687.3" y="261" font-size="18" fill="#000" text-anchor="start" font-weight="normal" >50</text>
<clipPath id="ci"><rect x="985.9" y="246.8" width="206.60000000000002" height="118.0"/></clipPath>
<rect x="985.9" y="246.8" width="206.6" height="118" fill="#fff" stroke="none" stroke-width="1" />
<g clip-path="url(#ci)">
<circle cx="1105.6" cy="246.8" r="6" fill="#e3eace" stroke="none" stroke-width="1" />
<circle cx="1145.9" cy="255.6" r="6" fill="#e3eace" stroke="none" stroke-width="1" />
<path d="M1041.8 306.25L1053.8 306.25L1047.8 316.75Z" fill="#72be2c" stroke="none" stroke-width="1"/>
<path d="M1042.8 320.05L1054.8 320.05L1048.8 330.55Z" fill="#72be2c" stroke="none" stroke-width="1"/>
<path d="M1042.8 343.85L1054.8 343.85L1048.8 354.35Z" fill="#72be2c" stroke="none" stroke-width="1"/>
<path d="M1058.3 321.85L1070.3 321.85L1064.3 332.35Z" fill="#72be2c" stroke="none" stroke-width="1"/>
<path d="M1068.4 336.55L1080.4 336.55L1074.4 347.05Z" fill="#72be2c" stroke="none" stroke-width="1"/>
<path d="M1085.5 315.45L1097.5 315.45L1091.5 325.95Z" fill="#72be2c" stroke="none" stroke-width="1"/>
<path d="M1084.9 287.05L1096.9 287.05L1090.9 297.55Z" fill="#72be2c" stroke="none" stroke-width="1"/>
<path d="M1100.5 293.45L1112.5 293.45L1106.5 303.95Z" fill="#72be2c" stroke="none" stroke-width="1"/>
<path d="M1109.7 289.75L1121.7 289.75L1115.7 300.25Z" fill="#72be2c" stroke="none" stroke-width="1"/>
<path d="M1132.6 263.15L1144.6 263.15L1138.6 273.65Z" fill="#72be2c" stroke="none" stroke-width="1"/>
<path d="M1149.1 272.35L1161.1 272.35L1155.1 282.85Z" fill="#72be2c" stroke="none" stroke-width="1"/>
<path d="M1144.5 252.15L1156.5 252.15L1150.5 262.65Z" fill="#72be2c" stroke="none" stroke-width="1"/>
<path d="M1181.2 258.55L1193.2 258.55L1187.2 269.05Z" fill="#72be2c" stroke="none" stroke-width="1"/>
<path d="M1049.2 334.65L1061.2 334.65L1055.2 345.15Z" fill="#72be2c" stroke="none" stroke-width="1"/>
<rect x="1063.65" y="305.35" width="10.5" height="10.5" fill="#eaa531" stroke="none" stroke-width="1" />
<circle cx="1009.3" cy="356.4" r="5.8" fill="#11a3ee" stroke="#fff" stroke-width="0.8" />
<circle cx="1026.7" cy="347.8" r="5.8" fill="#11a3ee" stroke="#fff" stroke-width="0.8" />
<circle cx="1040.5" cy="334.4" r="5.8" fill="#11a3ee" stroke="#fff" stroke-width="0.8" />
<circle cx="1056.1" cy="330.8" r="5.8" fill="#11a3ee" stroke="#fff" stroke-width="0.8" />
<circle cx="1079" cy="333.5" r="5.8" fill="#11a3ee" stroke="#fff" stroke-width="0.8" />
<circle cx="1097.3" cy="284.9" r="5.8" fill="#11a3ee" stroke="#fff" stroke-width="0.8" />
<circle cx="1097.3" cy="296.8" r="5.8" fill="#11a3ee" stroke="#fff" stroke-width="0.8" />
<circle cx="1097.3" cy="302.3" r="5.8" fill="#11a3ee" stroke="#fff" stroke-width="0.8" />
<circle cx="1104.7" cy="305.1" r="5.8" fill="#11a3ee" stroke="#fff" stroke-width="0.8" />
<circle cx="1110.2" cy="288.6" r="5.8" fill="#11a3ee" stroke="#fff" stroke-width="0.8" />
<circle cx="1122.1" cy="273.9" r="5.8" fill="#11a3ee" stroke="#fff" stroke-width="0.8" />
<circle cx="1119.3" cy="284" r="5.8" fill="#11a3ee" stroke="#fff" stroke-width="0.8" />
<circle cx="1122.1" cy="297.8" r="5.8" fill="#11a3ee" stroke="#fff" stroke-width="0.8" />
<circle cx="1130.3" cy="288.6" r="5.8" fill="#11a3ee" stroke="#fff" stroke-width="0.8" />
<circle cx="1141.3" cy="256.5" r="5.8" fill="#11a3ee" stroke="#fff" stroke-width="0.8" />
<circle cx="1146.8" cy="269.3" r="5.8" fill="#11a3ee" stroke="#fff" stroke-width="0.8" />
<circle cx="1145.9" cy="275.8" r="5.8" fill="#11a3ee" stroke="#fff" stroke-width="0.8" />
<circle cx="1152.3" cy="247.3" r="5.8" fill="#11a3ee" stroke="#fff" stroke-width="0.8" />
<circle cx="1157.8" cy="265.7" r="5.8" fill="#11a3ee" stroke="#fff" stroke-width="0.8" />
<circle cx="1160.6" cy="251" r="5.8" fill="#11a3ee" stroke="#fff" stroke-width="0.8" />
<circle cx="1165.2" cy="260.2" r="5.8" fill="#11a3ee" stroke="#fff" stroke-width="0.8" />
<circle cx="1166.1" cy="274.8" r="5.8" fill="#11a3ee" stroke="#fff" stroke-width="0.8" />
<circle cx="1161.5" cy="254.7" r="5.8" fill="#11a3ee" stroke="#fff" stroke-width="0.8" />
<circle cx="1126.7" cy="288.6" r="5.8" fill="#11a3ee" stroke="#fff" stroke-width="0.8" />
<circle cx="1136.8" cy="285.8" r="5.8" fill="#11a3ee" stroke="#fff" stroke-width="0.8" />
<rect x="1128.5" y="279.4" width="11" height="11" fill="#f9dcb0" stroke="#eaa531" stroke-width="1" />
<path d="M1128.5 279.4L1139.5 290.4M1139.5 279.4L1128.5 290.4" stroke="#eaa531" stroke-width="1" fill="none"/>
<path d="M1051.5 330L1058.7 337.2L1051.5 344.4L1044.3 337.2Z" fill="#1b5281" stroke="none" stroke-width="1"/>
<path d="M1075.7 322.3L1082.9 329.5L1075.7 336.7L1068.5 329.5Z" fill="#1b5281" stroke="none" stroke-width="1"/>
<path d="M1081.8 300.3L1089 307.5L1081.8 314.7L1074.6 307.5Z" fill="#1b5281" stroke="none" stroke-width="1"/>
<path d="M1148.3 275L1155.5 282.2L1148.3 289.4L1141.1 282.2Z" fill="#1b5281" stroke="none" stroke-width="1"/>
<line x1="989.25" y1="370" x2="1131.02" y2="240" stroke="#6f6f6f" stroke-width="2" />
<line x1="1014.51" y1="370" x2="1149.56" y2="240" stroke="#173d66" stroke-width="2" />
<line x1="991.8" y1="370" x2="1186.91" y2="240" stroke="#781616" stroke-width="2" />
</g>
<rect x="985.9" y="246.8" width="206.6" height="118" fill="none" stroke="#6a6a6a" stroke-width="1.5" />
<line x1="648.2" y1="364.8" x2="1193.5" y2="364.8" stroke="#000" stroke-width="2" />
<line x1="1192.5" y1="4.9" x2="1192.5" y2="365.8" stroke="#000" stroke-width="2" />
<line x1="959.28" y1="364.8" x2="959.28" y2="369.3" stroke="#000" stroke-width="2" />
<line x1="1056.54" y1="364.8" x2="1056.54" y2="369.3" stroke="#000" stroke-width="2" />
<line x1="1153.8" y1="364.8" x2="1153.8" y2="369.3" stroke="#000" stroke-width="2" />
<line x1="1007.91" y1="364.8" x2="1007.91" y2="367.8" stroke="#000" stroke-width="2" />
<line x1="1105.17" y1="364.8" x2="1105.17" y2="367.8" stroke="#000" stroke-width="2" />
<clipPath id="cc"><rect x="82.3" y="442.1" width="429.7" height="263.9"/></clipPath>
<g clip-path="url(#cc)">
<line x1="50.2" y1="743.8" x2="543.8" y2="321.4" stroke="#6f6f6f" stroke-width="2" />
<line x1="50.2" y1="767.63" x2="543.8" y2="329.91" stroke="#1f5f96" stroke-width="2" />
<line x1="75" y1="702.02" x2="520" y2="425.01" stroke="#781616" stroke-width="2" />
<path d="M334.5 505.65L347.5 505.65L341 517.15Z" fill="#c2e5a0" stroke="none" stroke-width="1"/>
<path d="M347 515.35L360 515.35L353.5 526.85Z" fill="#c2e5a0" stroke="none" stroke-width="1"/>
<path d="M330.2 517.55L343.2 517.55L336.7 529.05Z" fill="#c2e5a0" stroke="none" stroke-width="1"/>
<path d="M341 514.85L354 514.85L347.5 526.35Z" fill="#c2e5a0" stroke="none" stroke-width="1"/>
<path d="M309.6 520.75L322.6 520.75L316.1 532.25Z" fill="#c2e5a0" stroke="none" stroke-width="1"/>
<path d="M348.6 541.95L361.6 541.95L355.1 553.45Z" fill="#c2e5a0" stroke="none" stroke-width="1"/>
<path d="M317.2 554.35L330.2 554.35L323.7 565.85Z" fill="#c2e5a0" stroke="none" stroke-width="1"/>
<path d="M320.5 519.25L333.5 519.25L327 530.75Z" fill="#c2e5a0" stroke="none" stroke-width="1"/>
<path d="M362.1 519.75L375.1 519.75L368.6 531.25Z" fill="#b8e6f1" stroke="none" stroke-width="1"/>
<path d="M306.9 547.35L319.9 547.35L313.4 558.85Z" fill="#b8e6f1" stroke="none" stroke-width="1"/>
<path d="M223 582.25L236 582.25L229.5 593.75Z" fill="#b8e6f1" stroke="none" stroke-width="1"/>
<path d="M237 594.75L250 594.75L243.5 606.25Z" fill="#b8e6f1" stroke="none" stroke-width="1"/>
<path d="M224 612.75L237 612.75L230.5 624.25Z" fill="#b8e6f1" stroke="none" stroke-width="1"/>
<path d="M246 607.25L259 607.25L252.5 618.75Z" fill="#b8e6f1" stroke="none" stroke-width="1"/>
<path d="M230 607.25L243 607.25L236.5 618.75Z" fill="#b8e6f1" stroke="none" stroke-width="1"/>
<path d="M473.3 455.45L486.3 455.45L479.8 466.95Z" fill="#b8e6f1" stroke="none" stroke-width="1"/>
<circle cx="323.7" cy="530.3" r="5.6" fill="#6cbf33" stroke="none" stroke-width="1" />
<circle cx="313.9" cy="541.2" r="5.6" fill="#6cbf33" stroke="none" stroke-width="1" />
<circle cx="334" cy="546" r="5.6" fill="#6cbf33" stroke="none" stroke-width="1" />
<circle cx="223" cy="606.4" r="5.6" fill="#11a3ee" stroke="#fff" stroke-width="0.8" />
<circle cx="232.5" cy="608.2" r="5.6" fill="#11a3ee" stroke="#fff" stroke-width="0.8" />
<circle cx="255" cy="601.8" r="5.6" fill="#11a3ee" stroke="#fff" stroke-width="0.8" />
<circle cx="257" cy="605" r="5.6" fill="#11a3ee" stroke="#fff" stroke-width="0.8" />
<circle cx="260.4" cy="583.4" r="5.6" fill="#11a3ee" stroke="#fff" stroke-width="0.8" />
<circle cx="273.5" cy="574" r="5.6" fill="#11a3ee" stroke="#fff" stroke-width="0.8" />
<circle cx="272.1" cy="581.2" r="5.6" fill="#11a3ee" stroke="#fff" stroke-width="0.8" />
<circle cx="279.8" cy="582.1" r="5.6" fill="#11a3ee" stroke="#fff" stroke-width="0.8" />
<polygon points="323.7,527.9 326.05,534.17 332.74,534.46 327.49,538.63 329.28,545.09 323.7,541.39 318.12,545.09 319.91,538.63 314.66,534.46 321.35,534.17" fill="#5cb82c" stroke="#444" stroke-width="1.2" stroke-linejoin="miter"/>
<polygon points="338.3,520.8 340.65,527.07 347.34,527.36 342.09,531.53 343.88,537.99 338.3,534.29 332.72,537.99 334.51,531.53 329.26,527.36 335.95,527.07" fill="#d6f0c2" stroke="#444" stroke-width="1.2" stroke-linejoin="miter"/>
<polygon points="292.3,561.5 294.65,567.77 301.34,568.06 296.09,572.23 297.88,578.69 292.3,574.99 286.72,578.69 288.51,572.23 283.26,568.06 289.95,567.77" fill="#bde9f3" stroke="#444" stroke-width="1.2" stroke-linejoin="miter"/>
<polygon points="261.5,579 263.85,585.27 270.54,585.56 265.29,589.73 267.08,596.19 261.5,592.49 255.92,596.19 257.71,589.73 252.46,585.56 259.15,585.27" fill="#0ea2ee" stroke="#444" stroke-width="1.2" stroke-linejoin="miter"/>
</g>
<rect x="82.3" y="442.1" width="429.7" height="263.9" fill="none" stroke="#000" stroke-width="2" />
<line x1="82.3" y1="450.1" x2="86.3" y2="450.1" stroke="#000" stroke-width="2" />
<text x="77" y="456.6" font-size="20.5" fill="#000" text-anchor="end" font-weight="normal" >−45</text>
<line x1="82.3" y1="499.6" x2="86.3" y2="499.6" stroke="#000" stroke-width="2" />
<text x="77" y="506.1" font-size="20.5" fill="#000" text-anchor="end" font-weight="normal" >−60</text>
<line x1="82.3" y1="549.1" x2="86.3" y2="549.1" stroke="#000" stroke-width="2" />
<text x="77" y="555.6" font-size="20.5" fill="#000" text-anchor="end" font-weight="normal" >−75</text>
<line x1="82.3" y1="598.6" x2="86.3" y2="598.6" stroke="#000" stroke-width="2" />
<text x="77" y="605.1" font-size="20.5" fill="#000" text-anchor="end" font-weight="normal" >−90</text>
<line x1="82.3" y1="648.1" x2="86.3" y2="648.1" stroke="#000" stroke-width="2" />
<text x="77" y="654.6" font-size="20.5" fill="#000" text-anchor="end" font-weight="normal" >−105</text>
<line x1="82.3" y1="697.6" x2="86.3" y2="697.6" stroke="#000" stroke-width="2" />
<text x="77" y="704.1" font-size="20.5" fill="#000" text-anchor="end" font-weight="normal" >−120</text>
<line x1="82.3" y1="474.85" x2="84.3" y2="474.85" stroke="#000" stroke-width="2" />
<line x1="82.3" y1="524.35" x2="84.3" y2="524.35" stroke="#000" stroke-width="2" />
<line x1="82.3" y1="573.85" x2="84.3" y2="573.85" stroke="#000" stroke-width="2" />
<line x1="82.3" y1="623.35" x2="84.3" y2="623.35" stroke="#000" stroke-width="2" />
<line x1="82.3" y1="672.85" x2="84.3" y2="672.85" stroke="#000" stroke-width="2" />
<line x1="142.75" y1="706" x2="142.75" y2="702" stroke="#000" stroke-width="2" />
<text x="142.75" y="727.5" font-size="20.5" fill="#000" text-anchor="middle" font-weight="normal" >−15</text>
<line x1="297" y1="706" x2="297" y2="702" stroke="#000" stroke-width="2" />
<text x="297" y="727.5" font-size="20.5" fill="#000" text-anchor="middle" font-weight="normal" >−10</text>
<line x1="451.25" y1="706" x2="451.25" y2="702" stroke="#000" stroke-width="2" />
<text x="451.25" y="727.5" font-size="20.5" fill="#000" text-anchor="middle" font-weight="normal" >−5</text>
<line x1="219.88" y1="706" x2="219.88" y2="704" stroke="#000" stroke-width="2" />
<line x1="374.12" y1="706" x2="374.12" y2="704" stroke="#000" stroke-width="2" />
<text x="296.7" y="770.4" font-size="22" fill="#000" text-anchor="middle">δ<tspan font-size="14" dy="-8">18</tspan><tspan dy="8">O(‰)</tspan></text>
<text x="20" y="567" font-size="21" fill="#000" text-anchor="middle" font-weight="normal" transform="rotate(-90 20 567)">δD(‰)</text>
<text x="88.7" y="468" font-size="23.5" fill="#000" text-anchor="start" font-weight="bold" >(c)</text>
<text x="332.3" y="491.5" font-size="17" fill="#111" text-anchor="middle" font-weight="normal" transform="rotate(-40.7 332.8 492.5)">GMWL</text>
<text x="435.8" y="466.3" font-size="17.5" fill="#1a73b8" text-anchor="middle" font-weight="normal" transform="rotate(-33.5 435.8 466.3)">LMWL</text>
<text x="434.6" y="504.7" font-size="17.5" fill="#a86868" text-anchor="middle" font-weight="normal" transform="rotate(-33.7 434.6 504.7)">EL</text>
<path d="M302.6 622.1L316 622.1L309.3 634.1Z" fill="#c2e5a0" stroke="none" stroke-width="1"/>
<path d="M302.6 644.3L316 644.3L309.3 656.3Z" fill="#b8e6f1" stroke="none" stroke-width="1"/>
<circle cx="309.3" cy="671.4" r="5.7" fill="#6cbf33" stroke="none" stroke-width="1" />
<circle cx="309.3" cy="693.8" r="5.7" fill="#11a3ee" stroke="none" stroke-width="1" />
<text x="330.5" y="632.6" font-size="18" fill="#000" text-anchor="start" font-weight="normal" >River (SLH)</text>
<text x="330.5" y="654.9" font-size="18" fill="#000" text-anchor="start" font-weight="normal" >River&#160; (SXLML)</text>
<text x="330.5" y="677.1" font-size="18" fill="#000" text-anchor="start" font-weight="normal" >Groundwater (SLH)</text>
<text x="330.5" y="699.4" font-size="18" fill="#000" text-anchor="start" font-weight="normal" >Groundwater&#160; (SXLML)</text>
<rect x="568.8" y="441.7" width="273.2" height="260.3" fill="none" stroke="#000" stroke-width="2" />
<line x1="568.8" y1="701.2" x2="576.8" y2="701.2" stroke="#000" stroke-width="2" />
<line x1="568.8" y1="676.67" x2="572.8" y2="676.67" stroke="#000" stroke-width="2" />
<line x1="568.8" y1="662.31" x2="572.8" y2="662.31" stroke="#000" stroke-width="2" />
<line x1="568.8" y1="652.13" x2="572.8" y2="652.13" stroke="#000" stroke-width="2" />
<line x1="568.8" y1="644.23" x2="572.8" y2="644.23" stroke="#000" stroke-width="2" />
<line x1="568.8" y1="637.78" x2="572.8" y2="637.78" stroke="#000" stroke-width="2" />
<line x1="568.8" y1="632.32" x2="572.8" y2="632.32" stroke="#000" stroke-width="2" />
<line x1="568.8" y1="627.6" x2="572.8" y2="627.6" stroke="#000" stroke-width="2" />
<line x1="568.8" y1="623.43" x2="572.8" y2="623.43" stroke="#000" stroke-width="2" />
<line x1="568.8" y1="619.7" x2="576.8" y2="619.7" stroke="#000" stroke-width="2" />
<line x1="568.8" y1="595.17" x2="572.8" y2="595.17" stroke="#000" stroke-width="2" />
<line x1="568.8" y1="580.81" x2="572.8" y2="580.81" stroke="#000" stroke-width="2" />
<line x1="568.8" y1="570.63" x2="572.8" y2="570.63" stroke="#000" stroke-width="2" />
<line x1="568.8" y1="562.73" x2="572.8" y2="562.73" stroke="#000" stroke-width="2" />
<line x1="568.8" y1="556.28" x2="572.8" y2="556.28" stroke="#000" stroke-width="2" />
<line x1="568.8" y1="550.82" x2="572.8" y2="550.82" stroke="#000" stroke-width="2" />
<line x1="568.8" y1="546.1" x2="572.8" y2="546.1" stroke="#000" stroke-width="2" />
<line x1="568.8" y1="541.93" x2="572.8" y2="541.93" stroke="#000" stroke-width="2" />
<line x1="568.8" y1="538.2" x2="576.8" y2="538.2" stroke="#000" stroke-width="2" />
<line x1="568.8" y1="513.67" x2="572.8" y2="513.67" stroke="#000" stroke-width="2" />
<line x1="568.8" y1="499.31" x2="572.8" y2="499.31" stroke="#000" stroke-width="2" />
<line x1="568.8" y1="489.13" x2="572.8" y2="489.13" stroke="#000" stroke-width="2" />
<line x1="568.8" y1="481.23" x2="572.8" y2="481.23" stroke="#000" stroke-width="2" />
<line x1="568.8" y1="474.78" x2="572.8" y2="474.78" stroke="#000" stroke-width="2" />
<line x1="568.8" y1="469.32" x2="572.8" y2="469.32" stroke="#000" stroke-width="2" />
<line x1="568.8" y1="464.6" x2="572.8" y2="464.6" stroke="#000" stroke-width="2" />
<line x1="568.8" y1="460.43" x2="572.8" y2="460.43" stroke="#000" stroke-width="2" />
<line x1="568.8" y1="456.7" x2="576.8" y2="456.7" stroke="#000" stroke-width="2" />
<text x="557" y="463.7" font-size="21" fill="#000" text-anchor="end" font-weight="normal" >10</text>
<text x="557" y="545.2" font-size="21" fill="#000" text-anchor="end" font-weight="normal" >1</text>
<text x="557" y="626.7" font-size="21" fill="#000" text-anchor="end" font-weight="normal" >0.1</text>
<text x="557" y="708.2" font-size="21" fill="#000" text-anchor="end" font-weight="normal" >0.01</text>
<line x1="581.2" y1="702" x2="581.2" y2="694" stroke="#000" stroke-width="2" />
<line x1="606" y1="702" x2="606" y2="694" stroke="#000" stroke-width="2" />
<line x1="630.8" y1="702" x2="630.8" y2="694" stroke="#000" stroke-width="2" />
<line x1="655.6" y1="702" x2="655.6" y2="694" stroke="#000" stroke-width="2" />
<line x1="680.4" y1="702" x2="680.4" y2="694" stroke="#000" stroke-width="2" />
<line x1="705.2" y1="702" x2="705.2" y2="694" stroke="#000" stroke-width="2" />
<line x1="730" y1="702" x2="730" y2="694" stroke="#000" stroke-width="2" />
<line x1="754.8" y1="702" x2="754.8" y2="694" stroke="#000" stroke-width="2" />
<line x1="779.6" y1="702" x2="779.6" y2="694" stroke="#000" stroke-width="2" />
<line x1="804.4" y1="702" x2="804.4" y2="694" stroke="#000" stroke-width="2" />
<line x1="829.2" y1="702" x2="829.2" y2="694" stroke="#000" stroke-width="2" />
<line x1="593.6" y1="702" x2="593.6" y2="698" stroke="#000" stroke-width="2" />
<line x1="618.4" y1="702" x2="618.4" y2="698" stroke="#000" stroke-width="2" />
<line x1="643.2" y1="702" x2="643.2" y2="698" stroke="#000" stroke-width="2" />
<line x1="668" y1="702" x2="668" y2="698" stroke="#000" stroke-width="2" />
<line x1="692.8" y1="702" x2="692.8" y2="698" stroke="#000" stroke-width="2" />
<line x1="717.6" y1="702" x2="717.6" y2="698" stroke="#000" stroke-width="2" />
<line x1="742.4" y1="702" x2="742.4" y2="698" stroke="#000" stroke-width="2" />
<line x1="767.2" y1="702" x2="767.2" y2="698" stroke="#000" stroke-width="2" />
<line x1="792" y1="702" x2="792" y2="698" stroke="#000" stroke-width="2" />
<line x1="816.8" y1="702" x2="816.8" y2="698" stroke="#000" stroke-width="2" />
<line x1="841.6" y1="702" x2="841.6" y2="698" stroke="#000" stroke-width="2" />
<text x="569.2" y="715" font-size="21" fill="#000" text-anchor="start" font-weight="normal" transform="rotate(45 569.2 715)">R7</text>
<text x="594" y="715" font-size="21" fill="#000" text-anchor="start" font-weight="normal" transform="rotate(45 594 715)">W5</text>
<text x="618.8" y="715" font-size="21" fill="#000" text-anchor="start" font-weight="normal" transform="rotate(45 618.8 715)">W6</text>
<text x="643.6" y="715" font-size="21" fill="#000" text-anchor="start" font-weight="normal" transform="rotate(45 643.6 715)">W7</text>
<text x="668.4" y="715" font-size="21" fill="#000" text-anchor="start" font-weight="normal" transform="rotate(45 668.4 715)">W17</text>
<text x="693.2" y="715" font-size="21" fill="#000" text-anchor="start" font-weight="normal" transform="rotate(45 693.2 715)">W19</text>
<text x="718" y="715" font-size="21" fill="#000" text-anchor="start" font-weight="normal" transform="rotate(45 718 715)">W21</text>
<text x="742.8" y="715" font-size="21" fill="#000" text-anchor="start" font-weight="normal" transform="rotate(45 742.8 715)">S1</text>
<text x="767.6" y="715" font-size="21" fill="#000" text-anchor="start" font-weight="normal" transform="rotate(45 767.6 715)">S2</text>
<text x="792.4" y="715" font-size="21" fill="#000" text-anchor="start" font-weight="normal" transform="rotate(45 792.4 715)">S3</text>
<text x="817.2" y="715" font-size="21" fill="#000" text-anchor="start" font-weight="normal" transform="rotate(45 817.2 715)">S4</text>
<text x="696.2" y="768.7" font-size="21" fill="#000" text-anchor="middle" font-weight="normal" >Sample</text>
<text x="538.5" y="572" font-size="21" fill="#000" text-anchor="middle" transform="rotate(-90 538.5 572)">R<tspan font-size="14" dy="4">m</tspan><tspan dy="-4">/R</tspan><tspan font-size="14" dy="4">a</tspan></text>
<text x="573" y="469" font-size="23.5" fill="#000" text-anchor="start" font-weight="bold" >(d)</text>
<path d="M574.2 526.1L588.2 526.1L581.2 538.1Z" fill="none" stroke="#7cc542" stroke-width="1.3"/>
<circle cx="606" cy="536.1" r="6.1" fill="none" stroke="#3cb0ea" stroke-width="1.3" />
<circle cx="630.8" cy="537.9" r="6.1" fill="none" stroke="#3cb0ea" stroke-width="1.3" />
<circle cx="655.6" cy="533.9" r="6.1" fill="none" stroke="#3cb0ea" stroke-width="1.3" />
<circle cx="680.4" cy="527.6" r="6.1" fill="none" stroke="#3cb0ea" stroke-width="1.3" />
<circle cx="705.2" cy="532.1" r="6.1" fill="none" stroke="#3cb0ea" stroke-width="1.3" />
<circle cx="730" cy="525" r="6.1" fill="none" stroke="#3cb0ea" stroke-width="1.3" />
<path d="M754.8 541.9L762.4 549.5L754.8 557.1L747.2 549.5Z" fill="none" stroke="#3d6c99" stroke-width="1.3"/>
<path d="M779.6 565.1L787.2 572.7L779.6 580.3L772 572.7Z" fill="none" stroke="#3d6c99" stroke-width="1.3"/>
<path d="M804.4 533L812 540.6L804.4 548.2L796.8 540.6Z" fill="none" stroke="#3d6c99" stroke-width="1.3"/>
<path d="M829.2 529.8L836.8 537.4L829.2 545L821.6 537.4Z" fill="none" stroke="#3d6c99" stroke-width="1.3"/>
<rect x="568.8" y="619.7" width="91" height="64.6" fill="#fff" stroke="#000" stroke-width="1.2" />
<circle cx="589.9" cy="631.4" r="6.1" fill="none" stroke="#3cb0ea" stroke-width="1.3" />
<path d="M589.9 644.7L597.4 652.2L589.9 659.7L582.4 652.2Z" fill="none" stroke="#3d6c99" stroke-width="1.3"/>
<path d="M583.2 668.3L596.8 668.3L590 680.6Z" fill="none" stroke="#7cc542" stroke-width="1.3"/>
<text x="609.4" y="636.7" font-size="16.5" fill="#000" text-anchor="start" font-weight="normal" >Well</text>
<text x="609.4" y="657.6" font-size="16.5" fill="#000" text-anchor="start" font-weight="normal" >Spring</text>
<text x="609.4" y="678.4" font-size="16.5" fill="#000" text-anchor="start" font-weight="normal" >River</text>
<line x1="915.3" y1="463.5" x2="1188.5" y2="463.5" stroke="#b5b5b5" stroke-width="1" />
<line x1="915.3" y1="619.5" x2="1188.5" y2="619.5" stroke="#b5b5b5" stroke-width="1" />
<line x1="915.3" y1="676.75" x2="1188.5" y2="676.75" stroke="#b5b5b5" stroke-width="1" />
<line x1="1052.5" y1="440.5" x2="1052.5" y2="701" stroke="#b5b5b5" stroke-width="1" />
<text x="1187" y="457.8" font-size="15.6" fill="#8c8c8c" text-anchor="end" font-weight="normal" >100% mantle</text>
<text x="1184.5" y="615.5" font-size="15.6" fill="#8c8c8c" text-anchor="end" font-weight="normal" >1% mantle</text>
<text x="1187" y="673.8" font-size="15.6" fill="#8c8c8c" text-anchor="end" font-weight="normal" >100% crustal</text>
<rect x="915.3" y="440.5" width="273.2" height="260.5" fill="none" stroke="#000" stroke-width="2" />
<line x1="915.3" y1="701.2" x2="923.3" y2="701.2" stroke="#000" stroke-width="2" />
<line x1="915.3" y1="676.64" x2="919.3" y2="676.64" stroke="#000" stroke-width="2" />
<line x1="915.3" y1="662.27" x2="919.3" y2="662.27" stroke="#000" stroke-width="2" />
<line x1="915.3" y1="652.07" x2="919.3" y2="652.07" stroke="#000" stroke-width="2" />
<line x1="915.3" y1="644.16" x2="919.3" y2="644.16" stroke="#000" stroke-width="2" />
<line x1="915.3" y1="637.7" x2="919.3" y2="637.7" stroke="#000" stroke-width="2" />
<line x1="915.3" y1="632.24" x2="919.3" y2="632.24" stroke="#000" stroke-width="2" />
<line x1="915.3" y1="627.51" x2="919.3" y2="627.51" stroke="#000" stroke-width="2" />
<line x1="915.3" y1="623.33" x2="919.3" y2="623.33" stroke="#000" stroke-width="2" />
<line x1="915.3" y1="619.6" x2="923.3" y2="619.6" stroke="#000" stroke-width="2" />
<line x1="915.3" y1="595.04" x2="919.3" y2="595.04" stroke="#000" stroke-width="2" />
<line x1="915.3" y1="580.67" x2="919.3" y2="580.67" stroke="#000" stroke-width="2" />
<line x1="915.3" y1="570.47" x2="919.3" y2="570.47" stroke="#000" stroke-width="2" />
<line x1="915.3" y1="562.56" x2="919.3" y2="562.56" stroke="#000" stroke-width="2" />
<line x1="915.3" y1="556.1" x2="919.3" y2="556.1" stroke="#000" stroke-width="2" />
<line x1="915.3" y1="550.64" x2="919.3" y2="550.64" stroke="#000" stroke-width="2" />
<line x1="915.3" y1="545.91" x2="919.3" y2="545.91" stroke="#000" stroke-width="2" />
<line x1="915.3" y1="541.73" x2="919.3" y2="541.73" stroke="#000" stroke-width="2" />
<line x1="915.3" y1="538" x2="923.3" y2="538" stroke="#000" stroke-width="2" />
<line x1="915.3" y1="513.44" x2="919.3" y2="513.44" stroke="#000" stroke-width="2" />
<line x1="915.3" y1="499.07" x2="919.3" y2="499.07" stroke="#000" stroke-width="2" />
<line x1="915.3" y1="488.87" x2="919.3" y2="488.87" stroke="#000" stroke-width="2" />
<line x1="915.3" y1="480.96" x2="919.3" y2="480.96" stroke="#000" stroke-width="2" />
<line x1="915.3" y1="474.5" x2="919.3" y2="474.5" stroke="#000" stroke-width="2" />
<line x1="915.3" y1="469.04" x2="919.3" y2="469.04" stroke="#000" stroke-width="2" />
<line x1="915.3" y1="464.31" x2="919.3" y2="464.31" stroke="#000" stroke-width="2" />
<line x1="915.3" y1="460.13" x2="919.3" y2="460.13" stroke="#000" stroke-width="2" />
<line x1="915.3" y1="456.4" x2="923.3" y2="456.4" stroke="#000" stroke-width="2" />
<line x1="915.9" y1="701" x2="915.9" y2="693" stroke="#000" stroke-width="2" />
<line x1="957.02" y1="701" x2="957.02" y2="697" stroke="#000" stroke-width="2" />
<line x1="981.07" y1="701" x2="981.07" y2="697" stroke="#000" stroke-width="2" />
<line x1="998.14" y1="701" x2="998.14" y2="697" stroke="#000" stroke-width="2" />
<line x1="1011.38" y1="701" x2="1011.38" y2="697" stroke="#000" stroke-width="2" />
<line x1="1022.2" y1="701" x2="1022.2" y2="697" stroke="#000" stroke-width="2" />
<line x1="1031.34" y1="701" x2="1031.34" y2="697" stroke="#000" stroke-width="2" />
<line x1="1039.26" y1="701" x2="1039.26" y2="697" stroke="#000" stroke-width="2" />
<line x1="1046.25" y1="701" x2="1046.25" y2="697" stroke="#000" stroke-width="2" />
<line x1="1052.5" y1="701" x2="1052.5" y2="693" stroke="#000" stroke-width="2" />
<line x1="1093.62" y1="701" x2="1093.62" y2="697" stroke="#000" stroke-width="2" />
<line x1="1117.67" y1="701" x2="1117.67" y2="697" stroke="#000" stroke-width="2" />
<line x1="1134.74" y1="701" x2="1134.74" y2="697" stroke="#000" stroke-width="2" />
<line x1="1147.98" y1="701" x2="1147.98" y2="697" stroke="#000" stroke-width="2" />
<line x1="1158.8" y1="701" x2="1158.8" y2="697" stroke="#000" stroke-width="2" />
<line x1="1167.94" y1="701" x2="1167.94" y2="697" stroke="#000" stroke-width="2" />
<line x1="1175.86" y1="701" x2="1175.86" y2="697" stroke="#000" stroke-width="2" />
<line x1="1182.85" y1="701" x2="1182.85" y2="697" stroke="#000" stroke-width="2" />
<text x="903.5" y="463.4" font-size="21" fill="#000" text-anchor="end" font-weight="normal" >10</text>
<text x="903.5" y="545" font-size="21" fill="#000" text-anchor="end" font-weight="normal" >1</text>
<text x="903.5" y="626.6" font-size="21" fill="#000" text-anchor="end" font-weight="normal" >0.1</text>
<text x="903.5" y="708.2" font-size="21" fill="#000" text-anchor="end" font-weight="normal" >0.01</text>
<text x="915.9" y="728" font-size="21" fill="#000" text-anchor="middle" font-weight="normal" >0.1</text>
<text x="1052.5" y="728" font-size="21" fill="#000" text-anchor="middle" font-weight="normal" >1</text>
<text x="1189.1" y="728" font-size="21" fill="#000" text-anchor="middle" font-weight="normal" >10</text>
<text x="1063" y="768.5" font-size="21" fill="#000" text-anchor="middle" font-weight="normal" >X</text>
<text x="871.2" y="570" font-size="21" fill="#000" text-anchor="middle" transform="rotate(-90 871.2 570)">R<tspan font-size="14" dy="4">c</tspan><tspan dy="-4">/R</tspan><tspan font-size="14" dy="4">a</tspan></text>
<text x="918.4" y="460" font-size="23.5" fill="#000" text-anchor="start" font-weight="bold" >(e)</text>
<line x1="1051.5" y1="471.7" x2="1056.9" y2="482.5" stroke="#222" stroke-width="1.1" />
<line x1="1049.2" y1="498" x2="1056.4" y2="505" stroke="#222" stroke-width="1.1" />
<line x1="1078.9" y1="502.6" x2="1088.1" y2="498.5" stroke="#222" stroke-width="1.1" />
<line x1="1076.1" y1="528.4" x2="1080.7" y2="525.5" stroke="#222" stroke-width="1.1" />
<line x1="1051.8" y1="527.8" x2="1054.9" y2="525" stroke="#222" stroke-width="1.1" />
<circle cx="1063.1" cy="491" r="5.9" fill="#11a3ee" stroke="none" stroke-width="1" />
<circle cx="1071.4" cy="509.3" r="5.9" fill="#11a3ee" stroke="none" stroke-width="1" />
<circle cx="1063.7" cy="511.4" r="5.9" fill="#11a3ee" stroke="none" stroke-width="1" />
<circle cx="1062.6" cy="518.6" r="5.9" fill="#11a3ee" stroke="none" stroke-width="1" />
<path d="M1069.1 527.3L1076.4 534.6L1069.1 541.9L1061.8 534.6Z" fill="#1b5281" stroke="none" stroke-width="1"/>
<text x="1033.2" y="466.6" font-size="17.5" fill="#000" text-anchor="start" font-weight="normal" >W21</text>
<text x="1012.4" y="493.3" font-size="17.5" fill="#000" text-anchor="start" font-weight="normal" >W19</text>
<text x="1089.7" y="493.3" font-size="17.5" fill="#000" text-anchor="start" font-weight="normal" >W17</text>
<text x="1081.2" y="531.5" font-size="17.5" fill="#000" text-anchor="start" font-weight="normal" >S4</text>
<text x="1038.7" y="543.3" font-size="17.5" fill="#000" text-anchor="start" font-weight="normal" >W7</text>
<rect x="915.3" y="649.5" width="103.25" height="47.5" fill="#fff" stroke="#000" stroke-width="1.2" />
<circle cx="938.25" cy="662" r="6.3" fill="#11a3ee" stroke="none" stroke-width="1" />
<path d="M938.25 677.2L945.55 684.5L938.25 691.8L930.95 684.5Z" fill="#1b5281" stroke="none" stroke-width="1"/>
<text x="964.5" y="667.5" font-size="18" fill="#000" text-anchor="start" font-weight="normal" >Well</text>
<text x="964.5" y="690" font-size="18" fill="#000" text-anchor="start" font-weight="normal" >Spring</text>
</svg></body></html>
